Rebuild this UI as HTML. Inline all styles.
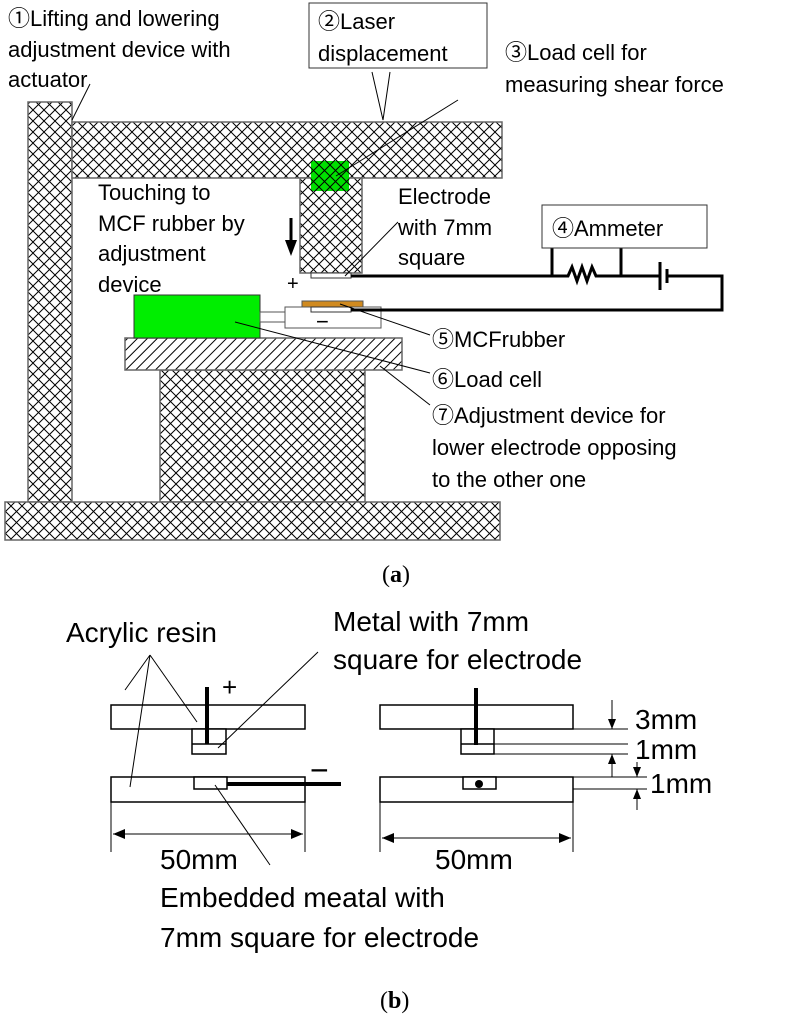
<!DOCTYPE html>
<html><head><meta charset="utf-8"><style>
html,body{margin:0;padding:0;background:#fff}
svg{display:block}
text{font-family:"Liberation Sans","Noto Sans CJK JP",sans-serif;fill:#000}
</style></head><body>
<svg width="792" height="1024" viewBox="0 0 792 1024" xmlns="http://www.w3.org/2000/svg">
<defs>
<pattern id="ch" width="11" height="11" patternUnits="userSpaceOnUse">
<rect width="11" height="11" fill="#fff"/>
<path d="M0 0L11 11M11 0L0 11" stroke="#000" stroke-width="1"/>
</pattern>
<pattern id="chg" width="11" height="11" patternUnits="userSpaceOnUse">
<rect width="11" height="11" fill="#00e000"/>
<path d="M0 0L11 11M11 0L0 11" stroke="#000" stroke-width="1"/>
</pattern>
<pattern id="dg" width="7" height="7" patternUnits="userSpaceOnUse" patternTransform="rotate(45)">
<rect width="7" height="7" fill="#fff"/>
<path d="M0 0V7" stroke="#000" stroke-width="2"/>
</pattern>
</defs>
<g stroke="#666" stroke-width="1.5">
<rect x="28" y="102" width="44" height="400" fill="url(#ch)"/>
<rect x="72" y="122" width="430" height="56" fill="url(#ch)"/>
<rect x="300" y="178" width="62" height="95" fill="url(#ch)"/>
<rect x="160" y="370" width="205" height="132" fill="url(#ch)"/>
<rect x="5" y="502" width="495" height="38" fill="url(#ch)"/>
<rect x="125" y="338" width="277" height="32" fill="url(#dg)"/>
</g>
<rect x="311" y="161" width="38" height="30" fill="url(#chg)"/>
<rect x="134" y="295" width="126" height="43" fill="#00ee00" stroke="#333"/>
<rect x="260" y="312" width="25" height="10" fill="#fff" stroke="#555"/>
<rect x="285" y="307" width="96" height="21" fill="#fff" stroke="#555"/>
<rect x="302" y="301" width="61" height="6" fill="#d08a20" stroke="#555"/>
<rect x="311" y="307" width="40" height="5" fill="#fff" stroke="#333"/>
<rect x="311" y="273" width="40" height="5" fill="#fff" stroke="#333"/>
<g stroke="#000" stroke-width="3" fill="none">
<path d="M351 276H568l4-9 5 14 5-14 5 14 5-14 4 9H660M667 276H722V310H351"/>
<path d="M552 248V276M621 248V276"/>
<path d="M660 262V290M667 269V283" stroke-width="3"/>
</g>
<rect x="542" y="205" width="165" height="43" fill="#fff" stroke="#333"/>
<rect x="309" y="3" width="178" height="65" fill="#fff" stroke="#333"/>
<g stroke="#000" stroke-width="1" fill="none">
<path d="M383 120L372 72M383 120L390 72"/>
<path d="M72 120L90 84"/>
<path d="M336 176L458 100"/>
<path d="M345 276L398 222"/>
<path d="M340 304L430 335"/>
<path d="M235 322L430 373"/>
<path d="M380 366L430 405"/>
</g>
<path d="M291 218V242" stroke="#000" stroke-width="3"/>
<path d="M285 240L291 256L297 240Z" fill="#000"/>
<g font-size="22">
<text x="8" y="26">①Lifting and lowering</text>
<text x="8" y="57">adjustment device with</text>
<text x="8" y="87">actuator</text>
<text x="318" y="29">②Laser</text>
<text x="318" y="61">displacement</text>
<text x="505" y="60">③Load cell for</text>
<text x="505" y="92">measuring shear force</text>
<text x="98" y="200">Touching to</text>
<text x="98" y="231">MCF rubber by</text>
<text x="98" y="261">adjustment</text>
<text x="98" y="292">device</text>
<text x="398" y="204">Electrode</text>
<text x="398" y="235">with 7mm</text>
<text x="398" y="265">square</text>
<text x="552" y="236">④Ammeter</text>
<text x="432" y="347">⑤MCFrubber</text>
<text x="432" y="387">⑥Load cell</text>
<text x="432" y="423">⑦Adjustment device for</text>
<text x="432" y="455">lower electrode opposing</text>
<text x="432" y="487">to the other one</text>
<text x="287" y="290" font-size="20">+</text>
<text x="316" y="329" font-size="22">−</text>
</g>
<text x="382" y="582" font-size="24" style="font-family:'Liberation Serif',serif">(<tspan font-weight="bold">a</tspan>)</text>
<text x="380" y="1008" font-size="24" style="font-family:'Liberation Serif',serif">(<tspan font-weight="bold">b</tspan>)</text>

<g stroke="#000" stroke-width="1.5" fill="#fff">
<rect x="111" y="705" width="194" height="24"/>
<rect x="192" y="729" width="34" height="25"/>
<path d="M192 744H226"/>
<rect x="111" y="777" width="194" height="25"/>
<rect x="194" y="777" width="33" height="12"/>
<rect x="380" y="705" width="193" height="24"/>
<rect x="461" y="729" width="33" height="25"/>
<path d="M461 744H494"/>
<rect x="380" y="777" width="193" height="25"/>
<rect x="463" y="777" width="33" height="12"/>
</g>
<g stroke="#000" stroke-width="4">
<path d="M207 687V744M476 688V745M227 784H341"/>
</g>
<circle cx="479" cy="784" r="4" fill="#000"/>
<g stroke="#000" stroke-width="1" fill="none">
<path d="M573 729H628M494 744H628M494 754H628M573 777H647M573 789H647"/>
<path d="M612 700V729M612 754V777M637 762V777M637 789V810"/>
<path d="M111 802V852M305 802V852M113 834H303M380 802V852M573 802V852M382 838H571"/>
<path d="M150 655L125 690M150 655L197 722M150 655L130 787M318 652L218 748M215 785L270 865"/>
</g>
<g fill="#000">
<path d="M612 729l-4-10h8zM612 754l-4 10h8zM637 777l-4-10h8zM637 789l-4 10h8z"/>
<path d="M113 834l12-5v10zM303 834l-12-5v10zM382 838l12-5v10zM571 838l-12-5v10z"/>
</g>
<g font-size="28">
<text x="66" y="642">Acrylic resin</text>
<text x="333" y="631">Metal with 7mm</text>
<text x="333" y="669">square for electrode</text>
<text x="222" y="696" font-size="26">+</text>
<text x="310" y="781" font-size="32">−</text>
<text x="635" y="729">3mm</text>
<text x="635" y="759">1mm</text>
<text x="650" y="793">1mm</text>
<text x="160" y="869">50mm</text>
<text x="435" y="869">50mm</text>
<text x="160" y="907">Embedded meatal with</text>
<text x="160" y="947">7mm square for electrode</text>
</g>
</svg>
</body></html>
